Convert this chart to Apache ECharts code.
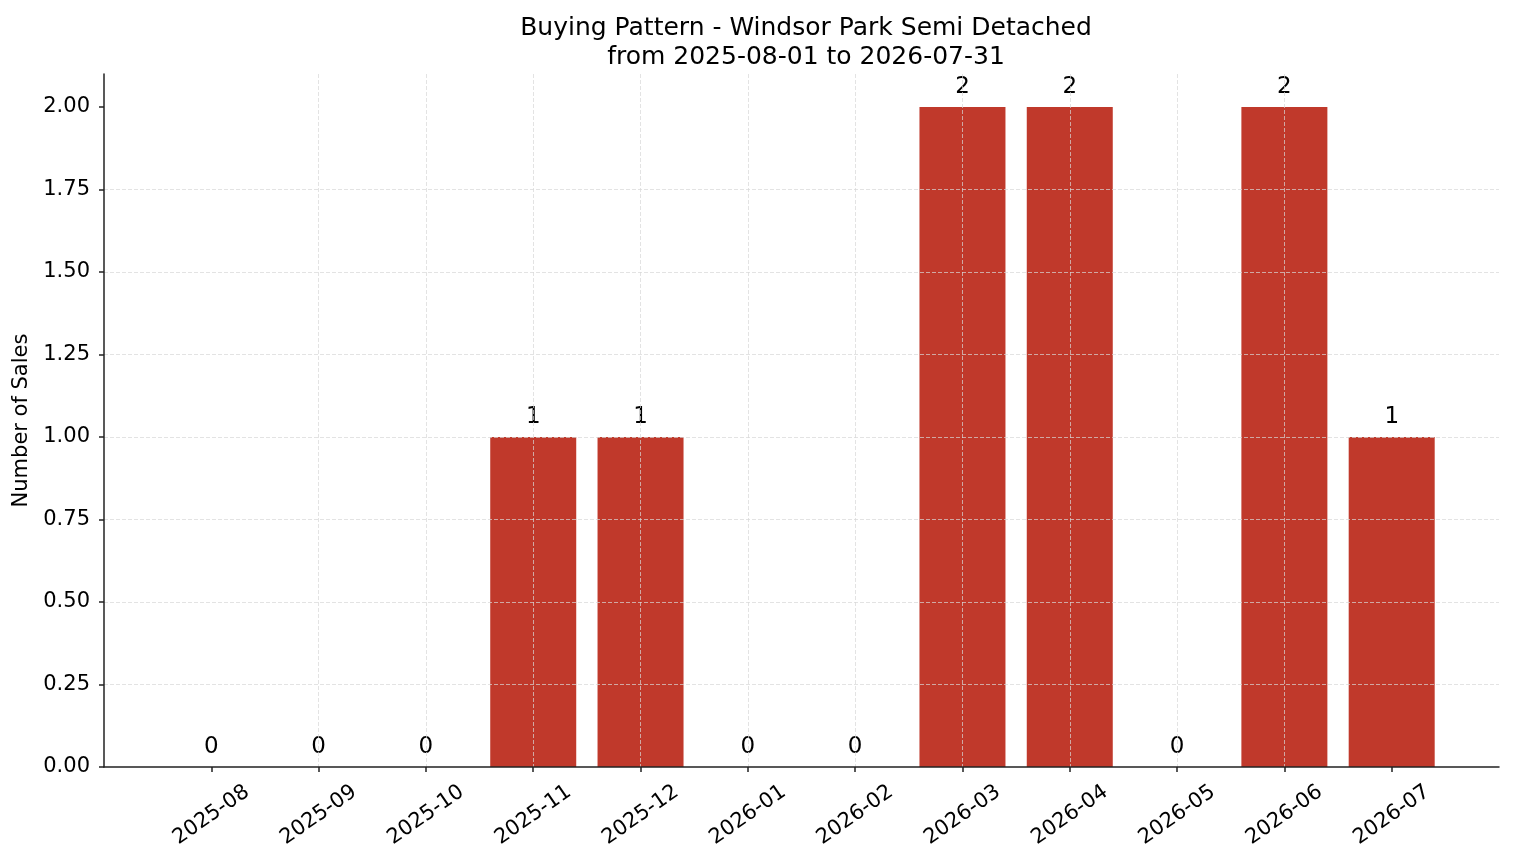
<!DOCTYPE html>
<html lang="en">
<head>
  <meta charset="UTF-8">
  <title>Buying Pattern - Windsor Park Semi Detached</title>
  <script src="https://cdn.jsdelivr.net/npm/echarts/dist/echarts.min.js"></script>
  <style>
    html, body { margin: 0; padding: 0; background: #fff; }
    #main { width: 1514px; height: 863px; }
  </style>
</head>
<body>
  <div id="main"></div>

  <script>
    // data
    const months = ['2025-08', '2025-09', '2025-10', '2025-11', '2025-12', '2026-01',
                    '2026-02', '2026-03', '2026-04', '2026-05', '2026-06', '2026-07'];
    const sales = [0, 0, 0, 1, 1, 0, 0, 2, 2, 0, 2, 1];
    const yTicks = [0, 0.25, 0.5, 0.75, 1, 1.25, 1.5, 1.75, 2];

    const font = 'DejaVu Sans';
    const gridLine = { show: true, showMinLine: false, showMaxLine: false,
      lineStyle: { color: 'rgba(215,215,215,0.7)', width: 1, type: [4, 2] } };
    const axisLine = { show: true, onZero: false, lineStyle: { color: '#222', width: 1.5 } };
    const tickStyle = { color: '#222', width: 1.5 };

    const chart = echarts.init(document.getElementById('main'));

    const monthIdx = months.map((m, i) => i);

    const option = {
      animation: false,
      textStyle: { fontFamily: font },
      title: {
        text: 'Buying Pattern - Windsor Park Semi Detached\nfrom 2025-08-01 to 2026-07-31',
        left: 801,
        top: 9,
        textAlign: 'center',
        textStyle: { fontFamily: font, fontSize: 25, fontWeight: 'normal', color: '#000', lineHeight: 29 }
      },
      grid: { left: 104, right: 15, top: 74, bottom: 96 },
      xAxis: {
        type: 'value',
        min: -1,
        max: months.length,
        interval: 1,
        z: 5,
        axisLine: axisLine,
        axisTick: { show: true, length: 5, customValues: monthIdx, lineStyle: tickStyle },
        axisLabel: {
          customValues: monthIdx,
          formatter: v => months[v] || '',
          rotate: 35,
          align: 'center',
          verticalAlign: 'middle',
          margin: 48,
          fontSize: 21,
          color: '#000',
          fontFamily: font
        },
        splitLine: gridLine
      },
      yAxis: {
        type: 'value',
        min: 0,
        max: 2.1,
        interval: 0.25,
        z: 5,
        name: 'Number of Sales',
        nameLocation: 'middle',
        nameGap: 70,
        nameTextStyle: { fontSize: 21, color: '#000', fontFamily: font },
        axisLine: axisLine,
        axisTick: { show: true, length: 5, customValues: yTicks, lineStyle: tickStyle },
        axisLabel: {
          customValues: yTicks,
          formatter: v => v.toFixed(2),
          margin: 14,
          fontSize: 21,
          color: '#000',
          fontFamily: font
        },
        splitLine: gridLine
      },
      series: [{
        type: 'bar',
        barWidth: 86,
        itemStyle: { color: '#c0392b' },
        label: {
          show: true,
          position: 'top',
          distance: 8,
          fontSize: 23,
          color: '#000',
          fontFamily: font
        },
        data: sales.map((v, i) => [i, v])
      }]
    };

    chart.setOption(option);
  </script>
</body>
</html>
